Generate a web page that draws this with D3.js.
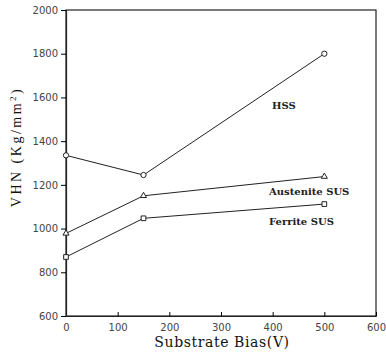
<!DOCTYPE html>
<html>
<head>
<meta charset="utf-8">
<script src="https://cdn.jsdelivr.net/npm/d3@7"></script>
<style>
  body { margin: 0; background: #fff; }
  svg { display: block; }
  .tick text { font-family: "DejaVu Sans", sans-serif; font-size: 10px; fill: #444; }
  .lbl { font-family: "DejaVu Serif", serif; font-size: 10px; font-weight: bold; fill: #222; }
  .xtitle { font-family: "DejaVu Serif", serif; font-size: 14px; fill: #111; letter-spacing: 0.6px; }
  .ytitle { font-family: "Liberation Serif", serif; font-size: 14px; fill: #111; letter-spacing: 2.5px; }
</style>
</head>
<body>
<script>
// data
var biasV = [0, 150, 500];
var hss = [1335, 1245, 1800];
var austenite = [978, 1150, 1238];
var ferrite = [870, 1047, 1112];
var xTicks = [0, 100, 200, 300, 400, 500, 600];
var yTicks = [600, 800, 1000, 1200, 1400, 1600, 1800, 2000];

var width = 386, height = 352;
var svg = d3.select("body").append("svg")
    .attr("width", width)
    .attr("height", height);

var x = d3.scaleLinear().domain([0, 600]).range([66, 376]);
var y = d3.scaleLinear().domain([600, 2000]).range([316, 10]);

// frame
svg.append("rect")
    .attr("x", x(0)).attr("y", y(2000))
    .attr("width", x(600) - x(0)).attr("height", y(600) - y(2000))
    .attr("fill", "none").attr("stroke", "#222").attr("stroke-width", 1.2);

svg.append("g")
    .attr("transform", "translate(0," + y(600) + ")")
    .call(d3.axisBottom(x).tickValues(xTicks).tickFormat(d3.format("d"))
        .tickSizeInner(-4).tickSizeOuter(0).tickPadding(8))
    .call(function (g) { g.select(".domain").attr("stroke", "#222").attr("stroke-width", 1.2); });

svg.append("g")
    .attr("transform", "translate(" + x(0) + ",0)")
    .call(d3.axisLeft(y).tickValues(yTicks).tickFormat(d3.format("d"))
        .tickSizeInner(5).tickSizeOuter(0).tickPadding(3))
    .call(function (g) { g.select(".domain").attr("stroke", "#222").attr("stroke-width", 1.2); });

var line = d3.line()
    .x(function (d, i) { return x(biasV[i]); })
    .y(function (d) { return y(d); });

var series = [
    { vals: hss, marker: d3.symbolCircle, size: 22 },
    { vals: austenite, marker: d3.symbolTriangle, size: 16 },
    { vals: ferrite, marker: d3.symbolSquare, size: 22 }
];

series.forEach(function (s) {
    svg.append("path")
        .datum(s.vals)
        .attr("d", line)
        .attr("fill", "none")
        .attr("stroke", "#222")
        .attr("stroke-width", 1);

    svg.selectAll(null)
        .data(s.vals)
        .enter().append("path")
        .attr("d", d3.symbol().type(s.marker).size(s.size))
        .attr("transform", function (d, i) { return "translate(" + x(biasV[i]) + "," + y(d) + ")"; })
        .attr("fill", "#fff")
        .attr("stroke", "#222")
        .attr("stroke-width", 1);
});

svg.append("text").attr("class", "lbl").attr("x", 272).attr("y", 109).text("HSS");
svg.append("text").attr("class", "lbl").attr("x", 269).attr("y", 195).text("Austenite SUS");
svg.append("text").attr("class", "lbl").attr("x", 269).attr("y", 225).text("Ferrite SUS");

svg.append("text").attr("class", "xtitle")
    .attr("x", 222).attr("y", 347)
    .attr("text-anchor", "middle")
    .text("Substrate Bias(V)");

var yt = svg.append("text").attr("class", "ytitle")
    .attr("transform", "translate(21,147) rotate(-90)")
    .attr("text-anchor", "middle");
yt.append("tspan").text("VHN (Kg/mm");
yt.append("tspan").attr("baseline-shift", "super").attr("font-size", "9px").text("2");
yt.append("tspan").text(")");
</script>
</body>
</html>
